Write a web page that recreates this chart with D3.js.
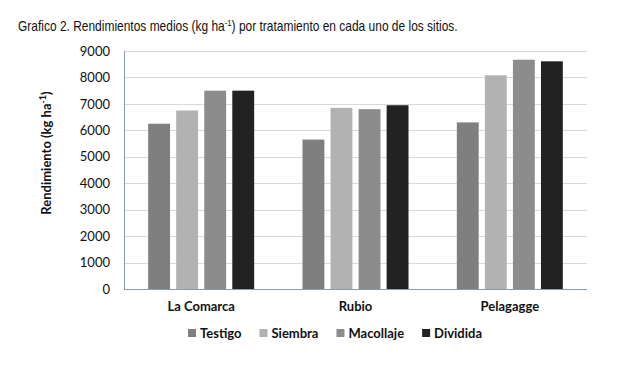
<!DOCTYPE html>
<html>
<head>
<meta charset="utf-8">
<script src="https://cdn.jsdelivr.net/npm/d3@7"></script>
<style>
  body { margin: 0; background: #fff; }
  svg { display: block; }
</style>
</head>
<body>
<svg id="chart" width="626" height="375"></svg>
<script>
// data
var sitios = ["La Comarca", "Rubio", "Pelagagge"]
var tratamientos = ["Testigo", "Siembra", "Macollaje", "Dividida"]
var testigo = [6250, 5650, 6300]
var siembra = [6750, 6850, 8080]
var macollaje = [7500, 6800, 8670]
var dividida = [7500, 6950, 8610]
var yTicks = [0, 1000, 2000, 3000, 4000, 5000, 6000, 7000, 8000, 9000]

var colores = ["#7f7f7f", "#b2b2b2", "#8c8c8c", "#222222"]

var series = [testigo, siembra, macollaje, dividida]
var rows = []
sitios.forEach(function(s, i) {
  tratamientos.forEach(function(t, j) {
    rows.push({sitio: s, trat: t, val: series[j][i]})
  })
})

var svg = d3.select("#chart")
var labelFont = "Lato, 'Open Sans', sans-serif"

// plot area (not named top/left: window.top is read-only)
var pLeft = 124, pRight = 587, pTop = 51, pBottom = 289
var groupW = 106

var x = d3.scaleBand()
  .domain(sitios)
  .range([pLeft, pRight])

var xInner = d3.scaleBand()
  .domain(tratamientos)
  .range([0, groupW])
  .paddingInner(0.22)

var y = d3.scaleLinear()
  .domain([0, 9000])
  .range([pBottom, pTop])

// title, squeezed horizontally to match the narrow original font
var title = svg.append("text")
  .attr("x", 0)
  .attr("y", 0)
  .style("font-family", "'Liberation Sans', Arial, sans-serif")
  .style("font-size", "14px")
  .attr("fill", "#111")
title.append("tspan").text("Grafico 2. Rendimientos medios (kg ha")
title.append("tspan").attr("dy", -5).style("font-size", "9px").text("-1")
title.append("tspan").attr("dy", 5).text(") por tratamiento en cada uno de los sitios.")
var tw = title.node().getComputedTextLength()
title.attr("transform", "translate(18,31) scale(" + (440 / tw) + ",1)")

// gridlines
svg.append("g")
  .selectAll("line")
  .data(yTicks.slice(1))
  .enter()
  .append("line")
    .attr("x1", pLeft)
    .attr("x2", pRight)
    .attr("y1", function(d) { return Math.round(y(d)) + 0.5 })
    .attr("y2", function(d) { return Math.round(y(d)) + 0.5 })
    .attr("stroke", "#d9d9d9")
    .attr("stroke-width", 1)

// bars
svg.append("g")
  .selectAll("rect")
  .data(rows)
  .enter()
  .append("rect")
    .attr("x", function(d) { return x(d.sitio) + (x.bandwidth() - groupW) / 2 + xInner(d.trat) })
    .attr("y", function(d) { return y(d.val) })
    .attr("width", xInner.bandwidth())
    .attr("height", function(d) { return pBottom - y(d.val) })
    .attr("fill", function(d) { return colores[tratamientos.indexOf(d.trat)] })

// axes
var yAxis = svg.append("g")
  .attr("transform", "translate(" + pLeft + ",0)")
  .call(d3.axisLeft(y).tickValues(yTicks).tickFormat(d3.format("d")).tickSize(0).tickPadding(14))
yAxis.select(".domain").attr("stroke", "#8c9bb0").attr("d", "M0.5," + pBottom + "V" + pTop)
yAxis.selectAll("text")
  .style("font-family", labelFont)
  .style("font-size", "13px")
  .attr("fill", "#111")

var xAxis = svg.append("g")
  .attr("transform", "translate(0," + pBottom + ")")
  .call(d3.axisBottom(x).tickSize(0).tickPadding(13))
xAxis.select(".domain").attr("stroke", "#8c9bb0").attr("d", "M" + pLeft + ",0.5H" + pRight)
xAxis.selectAll("text")
  .style("font-family", labelFont)
  .style("font-size", "13px")
  .style("font-weight", "bold")
  .attr("fill", "#111")

// y title
var yTitle = svg.append("text")
  .attr("transform", "translate(51,153) rotate(-90)")
  .attr("text-anchor", "middle")
  .style("font-family", labelFont)
  .style("font-size", "13px")
  .style("font-weight", "bold")
  .attr("fill", "#111")
yTitle.append("tspan").text("Rendimiento (kg ha")
yTitle.append("tspan").attr("dy", -5).style("font-size", "9px").text("-1")
yTitle.append("tspan").attr("dy", 5).text(")")

// legend
var legend = svg.append("g")
var lx = 188
tratamientos.forEach(function(t, i) {
  legend.append("rect")
    .attr("x", lx)
    .attr("y", 329)
    .attr("width", 8)
    .attr("height", 8)
    .attr("fill", colores[i])
  var txt = legend.append("text")
    .attr("x", lx + 12)
    .attr("y", 338)
    .style("font-family", labelFont)
    .style("font-size", "13px")
    .style("font-weight", "bold")
    .attr("fill", "#111")
    .text(t)
  lx = lx + 12 + txt.node().getComputedTextLength() + 18
})
</script>
</body>
</html>
